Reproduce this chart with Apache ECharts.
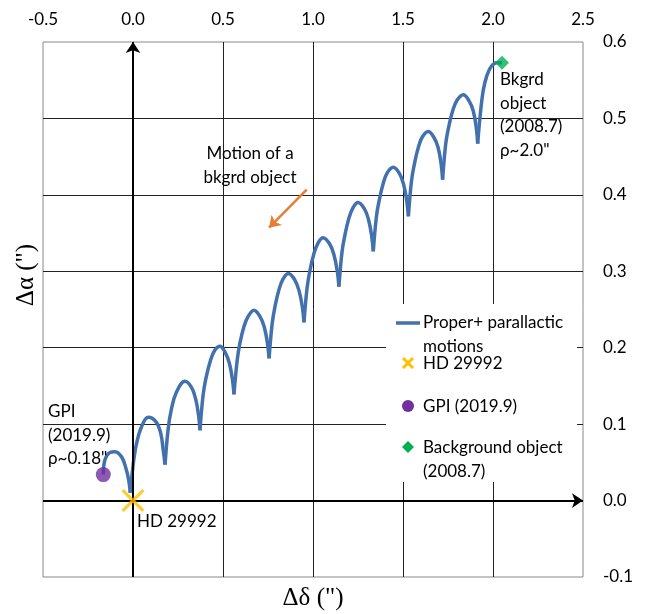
<!DOCTYPE html>
<html>
<head>
<meta charset="utf-8">
<script src="https://cdn.jsdelivr.net/npm/echarts@6/dist/echarts.min.js"></script>
<style>
    html, body { margin: 0; padding: 0; background: #fff; }
    #chart { width: 650px; height: 614px; }
</style>
</head>
<body>
<div id="chart"></div>
<script>
// 视差运动轨迹，按每个"拱"分段读取 [Δδ, Δα]
var loop0 = [[-0.165, 0.034], [-0.156, 0.053], [-0.128, 0.063], [-0.1, 0.064], [-0.063, 0.057], [-0.039, 0.042], [-0.024, 0.027], [-0.015, 0.01]];
var loop1 = [[-0.015, 0.01], [0.002, 0.049], [0.02, 0.075], [0.048, 0.097], [0.085, 0.109], [0.128, 0.103], [0.154, 0.088], [0.168, 0.066], [0.178, 0.047]];
var loop2 = [[0.178, 0.047], [0.195, 0.093], [0.212, 0.118], [0.24, 0.141], [0.289, 0.156], [0.325, 0.148], [0.348, 0.133], [0.364, 0.112], [0.372, 0.092]];
var loop3 = [[0.372, 0.092], [0.389, 0.137], [0.405, 0.16], [0.43, 0.183], [0.455, 0.197], [0.483, 0.202], [0.512, 0.194], [0.535, 0.18], [0.552, 0.159], [0.561, 0.139]];
var loop4 = [[0.561, 0.139], [0.579, 0.184], [0.594, 0.206], [0.617, 0.228], [0.64, 0.241], [0.672, 0.249], [0.705, 0.241], [0.728, 0.228], [0.747, 0.206], [0.756, 0.186]];
var loop5 = [[0.756, 0.186], [0.773, 0.231], [0.789, 0.254], [0.811, 0.276], [0.834, 0.29], [0.863, 0.297], [0.898, 0.289], [0.922, 0.275], [0.941, 0.253], [0.95, 0.233]];
var loop6 = [[0.95, 0.233], [0.967, 0.278], [0.983, 0.301], [1.005, 0.323], [1.028, 0.337], [1.056, 0.344], [1.092, 0.336], [1.116, 0.322], [1.135, 0.3], [1.144, 0.28]];
var loop7 = [[1.144, 0.28], [1.161, 0.325], [1.177, 0.347], [1.199, 0.369], [1.222, 0.383], [1.25, 0.39], [1.285, 0.382], [1.308, 0.368], [1.326, 0.346], [1.335, 0.326]];
var loop8 = [[1.335, 0.326], [1.352, 0.371], [1.368, 0.393], [1.39, 0.415], [1.413, 0.429], [1.446, 0.436], [1.48, 0.428], [1.503, 0.414], [1.521, 0.392], [1.53, 0.372]];
var loop9 = [[1.53, 0.372], [1.547, 0.418], [1.563, 0.44], [1.585, 0.462], [1.608, 0.476], [1.64, 0.483], [1.672, 0.475], [1.695, 0.462], [1.712, 0.44], [1.72, 0.42]];
var loop10 = [[1.72, 0.42], [1.737, 0.466], [1.753, 0.488], [1.776, 0.51], [1.801, 0.524], [1.835, 0.531], [1.867, 0.523], [1.89, 0.51], [1.907, 0.488], [1.915, 0.467]];
var loop11 = [[1.915, 0.467], [1.928, 0.502], [1.946, 0.537], [1.966, 0.556], [1.99, 0.568], [2.02, 0.573], [2.05, 0.573]];
var loops = [loop0, loop1, loop2, loop3, loop4, loop5, loop6, loop7, loop8, loop9, loop10, loop11];

var hdPos = [0, 0];
var gpiPos = [-0.165, 0.034];
var bkgPos = [2.05, 0.573];
var motionArrow = [[0.965, 0.407], [0.756, 0.357]];

var xMin = -0.5, xMax = 2.5, xStep = 0.5;
var yMin = -0.1, yMax = 0.6, yStep = 0.1;

var BLUE = '#4271AE', GOLD = '#FFC000', PURPLE = '#7030A0', GREEN = '#00B050', ORANGE = '#E57E34';
var FONT = 'Lato';
var xMark = 'path://M0,2L2,0L10,8L18,0L20,2L12,10L20,18L18,20L10,12L2,20L0,18L8,10Z';

var myChart = echarts.init(document.getElementById('chart'));

var series = [];
loops.forEach(function (n) {
    series.push({
        type: 'line',
        data: n,
        smooth: 0.4,
        showSymbol: false,
        lineStyle: { color: BLUE, width: 3.5 },
        z: 3,
        silent: true
    });
});
// 坐标轴箭头 + 运动方向箭头
series.push({
    type: 'scatter',
    data: [],
    silent: true,
    markLine: {
        silent: true,
        symbol: ['none', 'arrow'],
        symbolSize: 11,
        label: { show: false },
        animation: false,
        data: [
            [{ coord: [0, yMin], lineStyle: { color: '#000', width: 2, type: 'solid' } }, { coord: [0, yMax] }],
            [{ coord: [xMin, 0], lineStyle: { color: '#000', width: 2, type: 'solid' } }, { coord: [xMax, 0] }],
            [{ coord: motionArrow[0], lineStyle: { color: ORANGE, width: 2.5, type: 'solid' } }, { coord: motionArrow[1] }]
        ]
    }
});
series.push({ type: 'scatter', data: [gpiPos], symbol: 'circle', symbolSize: 15, itemStyle: { color: PURPLE }, z: 5, silent: true });
series.push({ type: 'scatter', data: [bkgPos], symbol: 'diamond', symbolSize: 14, itemStyle: { color: GREEN }, z: 5, silent: true });
series.push({ type: 'scatter', data: [hdPos], symbol: xMark, symbolSize: 23, itemStyle: { color: GOLD }, z: 6, silent: true });

var txt = { fontFamily: FONT, fontSize: 17, fill: '#000' };
function t(x, y, s, extra) {
    return { type: 'text', x: x, y: y, z: 60, style: Object.assign({ text: s, lineHeight: 23.5 }, txt, extra || {}) };
}

var opt_ = {
    animation: false,
    grid: { left: 43, right: 67, top: 42, bottom: 37, show: true, borderColor: '#888', borderWidth: 1 },
    xAxis: {
        type: 'value', position: 'top', min: xMin, max: xMax, interval: xStep,
        axisLine: { show: false }, axisTick: { show: false },
        axisLabel: { margin: 14, fontFamily: FONT, fontSize: 17, color: '#000', formatter: function (v) { return v.toFixed(1); } },
        splitLine: { show: true, showMinLine: false, showMaxLine: false, lineStyle: { color: '#222', width: 1 } }
    },
    yAxis: {
        type: 'value', position: 'right', min: yMin, max: yMax, interval: yStep,
        axisLine: { show: false }, axisTick: { show: false },
        axisLabel: { margin: 20, fontFamily: FONT, fontSize: 17, color: '#000', formatter: function (v) { return v.toFixed(1); } },
        splitLine: { show: true, showMinLine: false, showMaxLine: false, lineStyle: { color: '#222', width: 1 } }
    },
    series: series,
    graphic: [
        // 图例
        { type: 'rect', shape: { x: 386, y: 304, width: 191, height: 178 }, style: { fill: '#fff' }, z: 50 },
        { type: 'line', shape: { x1: 396, y1: 323, x2: 420, y2: 323 }, style: { stroke: BLUE, lineWidth: 3.5 }, z: 51 },
        t(423, 311, 'Proper+ parallactic\nmotions'),
        { type: 'line', shape: { x1: 403, y1: 358, x2: 413, y2: 368 }, style: { stroke: GOLD, lineWidth: 3 }, z: 51 },
        { type: 'line', shape: { x1: 413, y1: 358, x2: 403, y2: 368 }, style: { stroke: GOLD, lineWidth: 3 }, z: 51 },
        t(423, 352, 'HD 29992'),
        { type: 'circle', shape: { cx: 408, cy: 406, r: 6 }, style: { fill: PURPLE }, z: 51 },
        t(423, 395, 'GPI (2019.9)'),
        { type: 'polygon', shape: { points: [[408, 441], [414, 447], [408, 453], [402, 447]] }, style: { fill: GREEN }, z: 51 },
        t(423, 436, 'Background object\n(2008.7)'),
        // 注释文字
        t(250, 142, 'Motion of a\nbkgrd object', { align: 'center' }),
        t(500, 68, 'Bkgrd\nobject\n(2008.7)\nρ~2.0"'),
        t(48, 400, 'GPI\n(2019.9)\nρ~0.18"'),
        t(137, 510, 'HD 29992'),
        // 轴标题
        { type: 'text', x: 313, y: 598, z: 60, style: { text: 'Δδ (")', fontFamily: 'Liberation Serif', fontSize: 25, fill: '#000', align: 'center', verticalAlign: 'middle' } },
        { type: 'text', x: 26, y: 275, rotation: Math.PI / 2, z: 60, style: { text: 'Δα (")', fontFamily: 'Liberation Serif', fontSize: 25, fill: '#000', align: 'center', verticalAlign: 'middle' } }
    ]
};
myChart.setOption(opt_);
</script>
</body>
</html>
